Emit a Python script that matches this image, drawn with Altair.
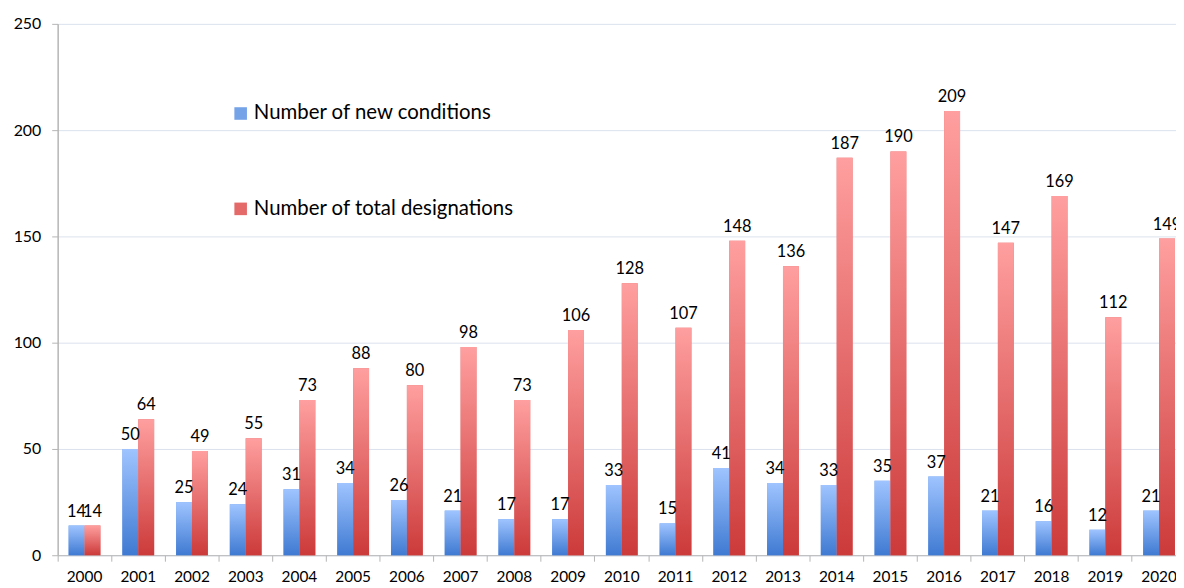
import altair as alt
import pandas as pd

years = [str(y) for y in range(2000, 2021)]
new_conditions = [14, 50, 25, 24, 31, 34, 26, 21, 17, 17, 33, 15, 41, 34, 33, 35, 37, 21, 16, 12, 21]
total_designations = [14, 64, 49, 55, 73, 88, 80, 98, 73, 106, 128, 107, 148, 136, 187, 190, 209, 147, 169, 112, 149]
series_names = ["Number of new conditions", "Number of total designations"]
y_ticks = [0, 50, 100, 150, 200, 250]

rows = []
for yr, n, t in zip(years, new_conditions, total_designations):
    rows.append({"year": yr, "series": series_names[0], "value": n})
    rows.append({"year": yr, "series": series_names[1], "value": t})
df = pd.DataFrame(rows)

grad_blue = {
    "gradient": "linear", "x1": 0, "y1": 0, "x2": 0, "y2": 1,
    "stops": [{"offset": 0, "color": "#9fc4ff"}, {"offset": 1, "color": "#3f7ad2"}],
}
grad_red = {
    "gradient": "linear", "x1": 0, "y1": 0, "x2": 0, "y2": 1,
    "stops": [{"offset": 0, "color": "#ff9f9f"}, {"offset": 1, "color": "#cc3a3a"}],
}

x = alt.X(
    "year:N",
    sort=years,
    scale=alt.Scale(paddingInner=0, paddingOuter=0, range=[0, 1136]),
    axis=alt.Axis(
        title=None, labelAngle=0, bandPosition=0, ticks=True, tickSize=6,
        labelPadding=8, domainColor="#b5b5b5", tickColor="#b5b5b5", grid=False,
        labelFontSize=15.5,
    ),
)
xo = alt.XOffset(
    "series:N",
    scale=alt.Scale(domain=series_names, paddingInner=0, paddingOuter=0.69),
)
y = alt.Y(
    "value:Q",
    scale=alt.Scale(domain=[0, 250], nice=False),
    axis=alt.Axis(
        title=None, values=y_ticks, tickSize=6, labelPadding=11,
        domainColor="#b5b5b5", tickColor="#b5b5b5", gridColor="#dbe2ee",
        domainWidth=1.5, labelFontSize=16,
    ),
)

base = alt.Chart(df).encode(x=x, xOffset=xo, y=y)

legend_bars = base.mark_bar().encode(
    color=alt.Color(
        "series:N",
        scale=alt.Scale(domain=series_names, range=["#74a3e8", "#e46a6a"]),
        legend=alt.Legend(
            title=None, orient="none", legendX=174, legendY=80,
            symbolType="square", symbolSize=160, symbolStrokeWidth=0,
            labelFont="Lato", labelFontSize=20.5, labelColor="#000000",
            labelOffset=3, rowPadding=75, labelLimit=400,
        ),
    )
)
blue = base.transform_filter(alt.datum.series == series_names[0]).mark_bar(color=grad_blue)
red = base.transform_filter(alt.datum.series == series_names[1]).mark_bar(color=grad_red)
labels = base.mark_text(
    baseline="bottom", dy=-6, font="Lato", fontSize=16.5, color="#000000"
).encode(text="value:Q")

chart = alt.layer(legend_bars, blue, red, labels).properties(
    width=1126,
    height=535,
    autosize=alt.AutoSizeParams(type="none"),
    padding={"left": 50, "top": 14, "right": 0, "bottom": 30},
).configure_view(stroke=None).configure_axis(
    labelFont="Lato", labelColor="#000000"
)

chart.save("out.html", embed_options={"renderer": "svg", "actions": False})
